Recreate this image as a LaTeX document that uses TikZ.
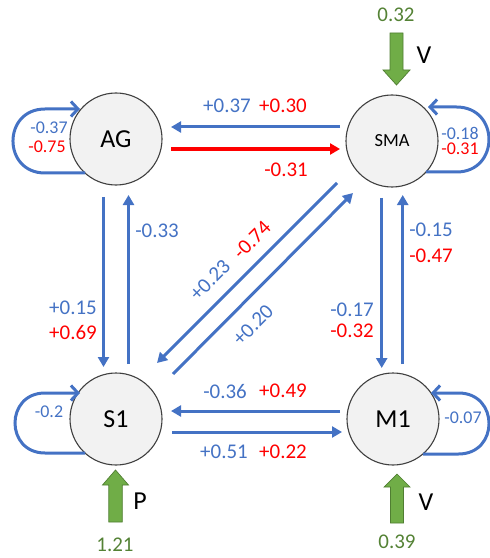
\documentclass[tikz,border=0pt]{standalone}
\usepackage{fontspec}
\setmainfont{Carlito}
\usetikzlibrary{arrows.meta,calc}

\definecolor{edgeblue}{HTML}{4472C4}
\definecolor{edgered}{HTML}{FF0000}
\definecolor{ringgray}{HTML}{404040}
\definecolor{fillgray}{HTML}{F2F2F2}
\definecolor{inputfill}{HTML}{70AD47}
\definecolor{inputline}{HTML}{507E32}
\definecolor{inputtext}{HTML}{548235}

\begin{document}
\begin{tikzpicture}[x=1bp, y=-1bp,
  region/.style={circle, draw=ringgray, line width=1.1bp, fill=fillgray,
    minimum size=92bp, inner sep=0pt, font=\fontsize{26}{30}\selectfont},
  link/.style={draw=edgeblue, line width=3bp,
    -{Triangle[length=10bp, width=11bp]}},
  selfloop/.style={draw=edgeblue, line width=3bp,
    -{Straight Barb[length=7bp, width=15bp]}},
  inputarrow/.style={fill=inputfill, draw=inputline, line width=0.7bp},
  wlabel/.style={inner sep=0pt, font=\fontsize{21}{24}\selectfont},
  slabel/.style={inner sep=0pt, font=\fontsize{18}{21}\selectfont},
  bluetxt/.style={text=edgeblue},
  redtxt/.style={text=edgered},
  inlabel/.style={inner sep=0pt, text=inputtext, font=\fontsize{21}{24}\selectfont},
  inname/.style={inner sep=0pt, font=\fontsize{26}{30}\selectfont}
]
\useasboundingbox (0,0) rectangle (490,558);

% regions
\node[region] (AG) at (116,139) {AG};
\node[region, font=\fontsize{18.5}{22}\selectfont] (SMA) at (392,141) {SMA};
\node[region] (S1) at (116,419) {S1};
\node[region] (M1) at (393,419) {M1};

% AG <-> SMA
\draw[link] ($(SMA)+(-52,-14)$) -- ($(AG)+(55,-12)$);
\draw[link, draw=edgered, line width=3.3bp] ($(AG)+(55,10)$) -- ($(SMA)+(-52,8)$);

% S1 <-> M1
\draw[link] ($(M1)+(-53,-8)$) -- ($(S1)+(55,-8)$);
\draw[link] ($(S1)+(56,13)$) -- ($(M1)+(-51,13)$);

% AG <-> S1
\draw[link] ($(AG)+(-12.5,58)$) -- ($(S1)+(-12.5,-52)$);
\draw[link] ($(S1)+(12.5,-55)$) -- ($(AG)+(12.5,56)$);

% SMA <-> M1
\draw[link] ($(SMA)+(-10.3,57)$) -- ($(M1)+(-11.3,-51)$);
\draw[link] ($(M1)+(9.7,-55)$) -- ($(SMA)+(10.7,54)$);

% SMA <-> S1
\draw[link] ($(SMA)+(-55,42)$) -- ($(S1)+(41,-56)$);
\draw[link] ($(S1)+(57,-45)$) -- ($(SMA)+(-39,52)$);

% self connections
\draw[selfloop] ($(AG)+(-31,34)$) -- ($(AG)+(-71,34)$)
  .. controls ($(AG)+(-113.7,34)$) and ($(AG)+(-113.7,-30)$) .. ($(AG)+(-71,-30)$)
  -- ($(AG)+(-36,-30)$);
\draw[selfloop] ($(SMA)+(34,31)$) -- ($(SMA)+(64.5,31)$)
  .. controls ($(SMA)+(107.8,31)$) and ($(SMA)+(107.8,-34)$) .. ($(SMA)+(64.5,-34)$)
  -- ($(SMA)+(36,-34)$);
\draw[selfloop] ($(S1)+(-31,34)$) -- ($(S1)+(-71,34)$)
  .. controls ($(S1)+(-111,34)$) and ($(S1)+(-111,-26)$) .. ($(S1)+(-71,-26)$)
  -- ($(S1)+(-36,-26)$);
\draw[selfloop] ($(M1)+(30,35)$) -- ($(M1)+(65.5,35)$)
  .. controls ($(M1)+(106.2,35)$) and ($(M1)+(106.2,-26)$) .. ($(M1)+(65.5,-26)$)
  -- ($(M1)+(38,-26)$);

% external inputs
\coordinate (inSMA) at (396.5,33);
\draw[inputarrow] (inSMA) ++(-6.5,0) -- ++(13,0) -- ++(0,37) -- ++(7,0)
  -- ++(-13.5,15) -- ++(-13.5,-15) -- ++(7,0) -- cycle;
\coordinate (inS1) at (115.5,522);
\draw[inputarrow] (inS1) ++(-6.75,0) -- ++(13.5,0) -- ++(0,-37) -- ++(6.25,0)
  -- ++(-13,-15) -- ++(-13,15) -- ++(6.25,0) -- cycle;
\coordinate (inM1) at (397,523);
\draw[inputarrow] (inM1) ++(-6.5,0) -- ++(13,0) -- ++(0,-36) -- ++(6.5,0)
  -- ++(-13,-13) -- ++(-13,13) -- ++(6.5,0) -- cycle;

\node[inlabel] (vSMA) at (396,15) {0.32};
\node[inname] (nSMA) at (424,55) {V};
\node[inname] (nS1) at (140,501) {P};
\node[inlabel] (vS1) at (115,545) {1.21};
\node[inname] (nM1) at (426,502) {V};
\node[inlabel] (vM1) at (397,542) {0.39};

% connection strengths
\node[wlabel, bluetxt] (w1) at (227,106) {+0.37};
\node[wlabel, redtxt]  (w2) at (283,106) {+0.30};
\node[wlabel, redtxt]  (w3) at (286,170) {-0.31};
\node[wlabel, bluetxt] (w4) at (157,231) {-0.33};
\node[wlabel, bluetxt] (w5) at (73,308) {+0.15};
\node[wlabel, redtxt]  (w6) at (73,333) {+0.69};
\node[wlabel, bluetxt] (w7) at (431,230) {-0.15};
\node[wlabel, redtxt]  (w8) at (431,256) {-0.47};
\node[wlabel, bluetxt] (w9) at (352,310) {-0.17};
\node[wlabel, redtxt]  (w10) at (352,331) {-0.32};
\node[wlabel, bluetxt, rotate=45] (w11) at (210,280) {+0.23};
\node[wlabel, redtxt, rotate=45]  (w12) at (252,240) {-0.74};
\node[wlabel, bluetxt, rotate=45] (w13) at (253,325) {+0.20};
\node[wlabel, bluetxt] (w14) at (225,392) {-0.36};
\node[wlabel, redtxt]  (w15) at (283,391) {+0.49};
\node[wlabel, bluetxt] (w16) at (224,452) {+0.51};
\node[wlabel, redtxt]  (w17) at (283,452) {+0.22};

% self connection strengths
\node[slabel, bluetxt] (s1) at (49,128) {-0.37};
\node[slabel, redtxt]  (s2) at (47,147) {-0.75};
\node[slabel, bluetxt] (s3) at (460,133) {-0.18};
\node[slabel, redtxt]  (s4) at (460,149) {-0.31};
\node[slabel, bluetxt] (s5) at (49,412) {-0.2};
\node[slabel, bluetxt] (s6) at (463,418) {-0.07};
\end{tikzpicture}
\end{document}
